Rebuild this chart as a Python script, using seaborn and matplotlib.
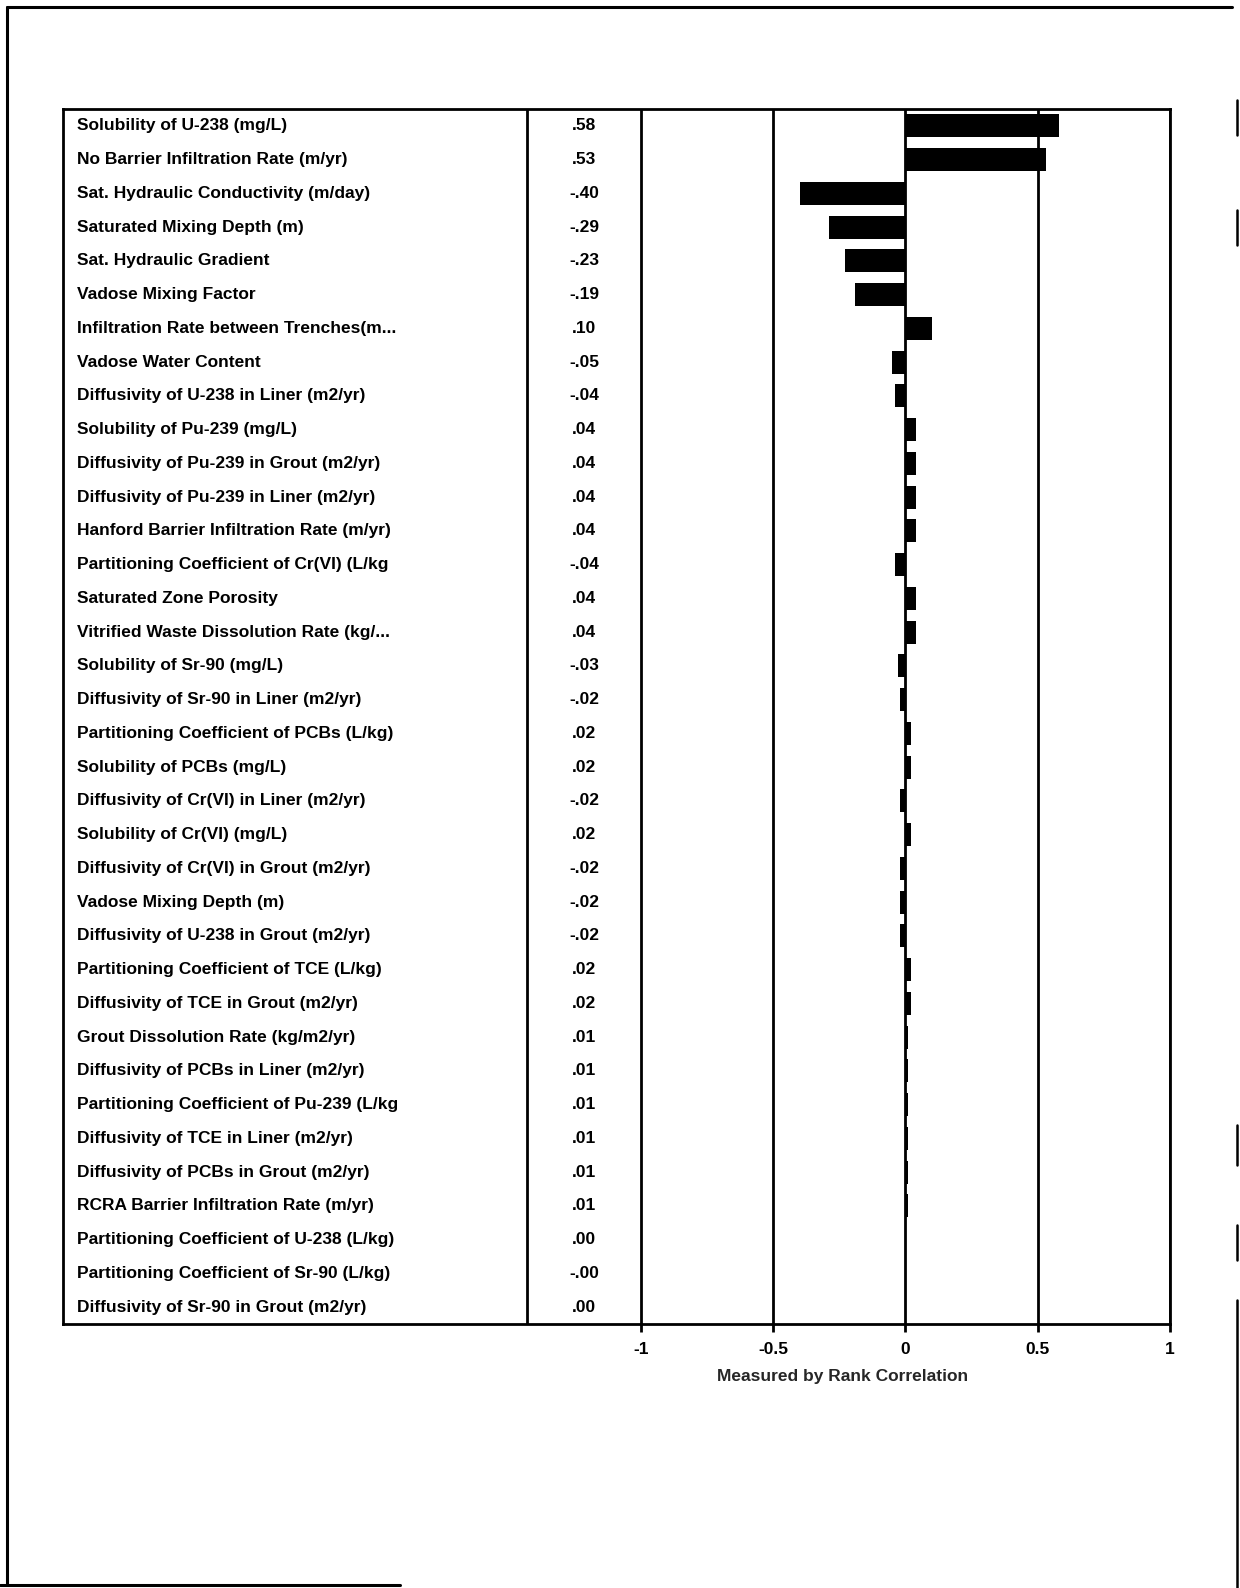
import matplotlib
matplotlib.use("Agg")
import matplotlib.pyplot as plt
from matplotlib.lines import Line2D
import seaborn as sns
import pandas as pd

# Input parameters, in ranked order
parameters = [
    "Solubility of U-238 (mg/L)",
    "No Barrier Infiltration Rate (m/yr)",
    "Sat. Hydraulic Conductivity (m/day)",
    "Saturated Mixing Depth (m)",
    "Sat. Hydraulic Gradient",
    "Vadose Mixing Factor",
    "Infiltration Rate between Trenches(m...",
    "Vadose Water Content",
    "Diffusivity of U-238 in Liner (m2/yr)",
    "Solubility of Pu-239 (mg/L)",
    "Diffusivity of Pu-239 in Grout (m2/yr)",
    "Diffusivity of Pu-239 in Liner (m2/yr)",
    "Hanford Barrier Infiltration Rate (m/yr)",
    "Partitioning Coefficient of Cr(VI) (L/kg",
    "Saturated Zone Porosity",
    "Vitrified Waste Dissolution Rate (kg/...",
    "Solubility of Sr-90 (mg/L)",
    "Diffusivity of Sr-90 in Liner (m2/yr)",
    "Partitioning Coefficient of PCBs (L/kg)",
    "Solubility of PCBs (mg/L)",
    "Diffusivity of Cr(VI) in Liner (m2/yr)",
    "Solubility of Cr(VI) (mg/L)",
    "Diffusivity of Cr(VI) in Grout (m2/yr)",
    "Vadose Mixing Depth (m)",
    "Diffusivity of U-238 in Grout (m2/yr)",
    "Partitioning Coefficient of TCE (L/kg)",
    "Diffusivity of TCE in Grout (m2/yr)",
    "Grout Dissolution Rate (kg/m2/yr)",
    "Diffusivity of PCBs in Liner (m2/yr)",
    "Partitioning Coefficient of Pu-239 (L/kg",
    "Diffusivity of TCE in Liner (m2/yr)",
    "Diffusivity of PCBs in Grout (m2/yr)",
    "RCRA Barrier Infiltration Rate (m/yr)",
    "Partitioning Coefficient of U-238 (L/kg)",
    "Partitioning Coefficient of Sr-90 (L/kg)",
    "Diffusivity of Sr-90 in Grout (m2/yr)",
]

# Rank correlation coefficients
rank_corr = [
    0.58, 0.53, -0.40, -0.29, -0.23, -0.19, 0.10, -0.05, -0.04,
    0.04, 0.04, 0.04, 0.04, -0.04, 0.04, 0.04, -0.03, -0.02,
    0.02, 0.02, -0.02, 0.02, -0.02, -0.02, -0.02, 0.02, 0.02,
    0.01, 0.01, 0.01, 0.01, 0.01, 0.01, 0.00, -0.0, 0.00,
]

tick_values = [-1, -0.5, 0, 0.5, 1]
tick_labels = ["-1", "-0.5", "0", "0.5", "1"]
axis_title = "Measured by Rank Correlation"

FONT = ["Liberation Sans", "DejaVu Sans"]
FS = 12.5

df = pd.DataFrame({"parameter": parameters, "corr": rank_corr})

sns.set_style("white")
plt.rcParams["font.family"] = FONT

W, H = 1240, 1588
fig = plt.figure(figsize=(W / 100, H / 100), dpi=100)
fig.patch.set_facecolor("white")

# Table + chart box in pixel geometry
box_left, box_right = 63, 1170
box_top, box_bottom = 109, 1324
ax = fig.add_axes([box_left / W, 1 - box_bottom / H,
                   (box_right - box_left) / W, (box_bottom - box_top) / H])

# Data range of the chart part: -1 .. 1 spanning pixels 641 .. 1170
px_per_unit = (1170 - 641) / 2.0
x_min = -1 - (641 - box_left) / px_per_unit
col_sep = -1 - (641 - 527) / px_per_unit

sns.barplot(data=df, y="parameter", x="corr", orient="h", color="black",
            width=0.68, saturation=1, linewidth=0, edgecolor="black",
            ax=ax, zorder=3)
ax.set_xlim(x_min, 1.0)
ax.set_ylim(len(parameters) - 0.5, -0.5)

# vertical grid lines and column separator
for t in tick_values:
    ax.axvline(t, color="black", lw=2.0, zorder=4 if t == 0 else 2)
ax.axvline(col_sep, color="black", lw=2.0, zorder=2)

for s in ax.spines.values():
    s.set_color("black")
    s.set_linewidth(2.0)

# row labels and value column
label_x = -1 - (641 - 77) / px_per_unit
value_x = (col_sep + (-1)) / 2
for i, (name, v) in enumerate(zip(parameters, rank_corr)):
    ax.text(label_x, i, name, ha="left", va="center", fontsize=FS,
            fontweight="bold", family=FONT, color="black")
    txt = f"{v:.2f}".replace("0.", ".", 1)
    ax.text(value_x, i, txt, ha="center", va="center", fontsize=FS,
            fontweight="bold", family=FONT, color="black")

ax.set_ylabel("")
ax.set_xlabel("")
ax.set_yticks([])
ax.set_xticks(tick_values)
ax.set_xticklabels(tick_labels, fontsize=FS, fontweight="bold", family=FONT)
ax.tick_params(axis="x", direction="out", length=6, width=2, pad=7,
               bottom=True, colors="black")

fig.text(843 / W, 1 - 1376 / H, axis_title, ha="center", va="center",
         fontsize=FS, fontweight="bold", family=FONT)

# page frame
def fline(x0, y0, x1, y1, lw=2.2):
    fig.add_artist(Line2D([x0 / W, x1 / W], [1 - y0 / H, 1 - y1 / H],
                          color="black", lw=lw))

fline(7, 7, 1232, 7)
fline(7, 7, 7, 1585)
fline(0, 1585, 400, 1585)
for y0, y1 in [(100, 135), (210, 245), (1125, 1165), (1225, 1260),
               (1300, 1588)]:
    fline(1237, y0, 1237, y1, lw=1.8)

fig.savefig("out.png", dpi=100, facecolor="white")
